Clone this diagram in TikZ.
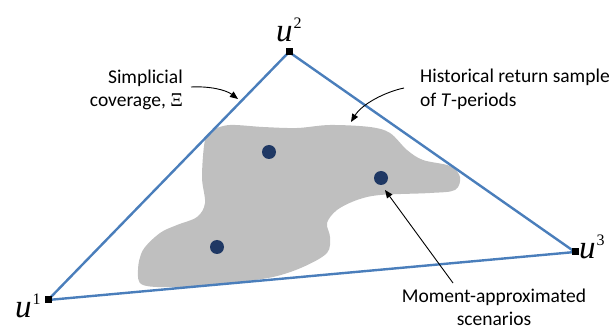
\documentclass[tikz,border=0pt]{standalone}
\usepackage{fontspec}
\setmainfont{Carlito}
\newfontfamily\tms{Liberation Serif}
\usetikzlibrary{arrows.meta}
\definecolor{edgeblue}{HTML}{4A7EBB}
\definecolor{blobgray}{HTML}{BFBFBF}
\definecolor{dotnavy}{HTML}{1F3864}
\tikzset{
  lbl/.style={inner sep=0pt, font=\fontsize{19.5}{24}\selectfont},
  ulbl/.style={inner sep=0pt, anchor=base west, font=\tms\fontsize{33}{33}\selectfont},
  vert/.style={fill=black, minimum size=7pt, inner sep=0pt, outer sep=0pt, rectangle},
  pt/.style={fill=dotnavy, circle, minimum size=14pt, inner sep=0pt},
  callout/.style={draw=black, line width=0.9pt, -{Triangle[length=8pt,width=6.5pt]}},
  simplex/.style={draw=edgeblue, line width=2.4pt, line join=round}
}
\newcommand{\ulab}[1]{\itshape u\kern1pt\raisebox{13.5pt}{\upshape\fontsize{16}{16}\selectfont #1}}
\begin{document}
\begin{tikzpicture}[x=1pt,y=-1pt]
\useasboundingbox (0,0) rectangle (614,331);
% blob
\fill[blobgray] plot[smooth cycle, tension=0.55] coordinates {
(213,130) (230,125) (263,127) (297,128) (330,125) (370,127) (390,133)
(407,150) (423,160) (450,166) (460,177) (455,190) (430,193) (380,195)
(357,200) (337,210) (327,223) (330,237) (327,253) (303,267) (273,277)
(230,283) (180,287) (143,285) (138,270) (143,250) (160,233) (177,225)
(197,217) (205,203) (202,177) (205,140)};
% dots
\node[pt] (d1) at (269,152) {};
\node[pt] (d2) at (381,178) {};
\node[pt] (d3) at (217,247) {};
% vertices
\coordinate (v1) at (48,300);
\coordinate (v2) at (289,52);
\coordinate (v3) at (575,252);
\draw[simplex] (v1) -- (v2) -- (v3) -- cycle;
\node[vert] (s1) at (v1) {};
\node[vert] (s2) at (v2) {};
\node[vert] (s3) at (v3) {};
\node[ulbl] (l2) at (276,42) {\ulab{2}};
\node[ulbl] (l1) at (15,318) {\ulab{1}};
\node[ulbl] (l3) at (579,259) {\ulab{3}};
% labels
\node[lbl, anchor=base east] (sa) at (183,84) {Simplicial};
\node[lbl, anchor=base east] (sb) at (183,107) {coverage, {\tms Ξ}};
\node[lbl, anchor=base west] (ha) at (420,83) {Historical return sample};
\node[lbl, anchor=base west] (hb) at (420,107) {of \textit{T}-periods};
\node[lbl, anchor=base] (ma) at (494,303) {Moment-approximated};
\node[lbl, anchor=base] (mb) at (494,326) {scenarios};
% callouts
\coordinate (sx) at (191,87);
\coordinate (sy) at (238,99);
\draw[callout] (sx) .. controls (210,86) and (226,90) .. (sy);
\coordinate (hx) at (404,88);
\coordinate (hy) at (351,122);
\draw[callout] (hx) .. controls (385,92) and (362,104) .. (hy);
\coordinate (mx) at (453,283);
\coordinate (my) at (385,190);
\draw[callout] (mx) -- (my);
\end{tikzpicture}
\end{document}
